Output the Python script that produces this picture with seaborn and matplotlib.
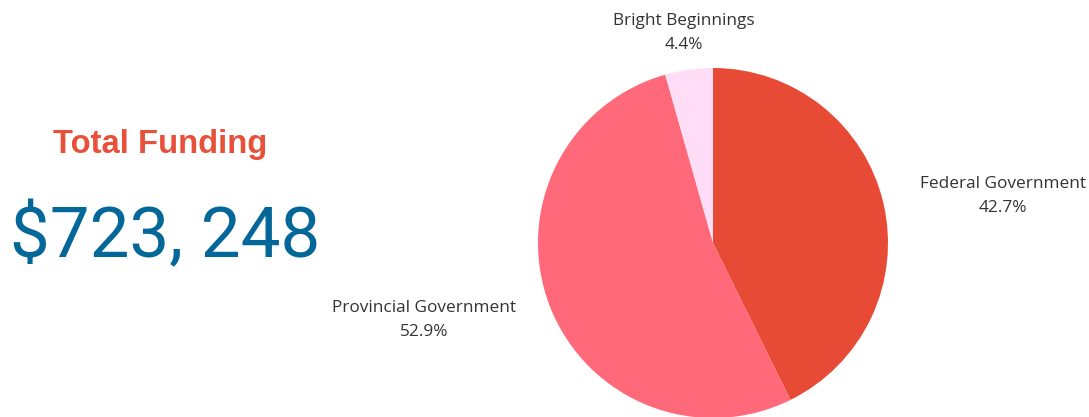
import matplotlib
matplotlib.use("Agg")
import matplotlib.pyplot as plt
import numpy as np
import seaborn as sns

# Funding sources (share of total, %)
sources = ["Federal Government", "Provincial Government", "Bright Beginnings"]
shares = [42.7, 52.9, 4.4]
colors = ["#E84B35", "#FF6979", "#FFDDF6"]

# label placement: radial distance and angle shift from wedge middle
label_dist = [1.68, 1.71, 1.21]
label_shift = [-3.9, -6.2, 0.0]

total_title = "Total Funding"
total_value = "$723, 248"

sns.set_theme(style="white")
plt.rcParams["font.family"] = ["Open Sans", "DejaVu Sans"]

fig = plt.figure(figsize=(10.89, 4.17), dpi=100)
W, H = 1089, 417
cx, cy, r = 713, 243, 175
ax = fig.add_axes([(cx - r) / W, (H - cy - r) / H, 2 * r / W, 2 * r / H])

wedges, _ = ax.pie(shares, colors=colors, startangle=90, counterclock=False,
                   radius=1, wedgeprops=dict(linewidth=0))
ax.set_xlim(-1, 1)
ax.set_ylim(-1, 1)
ax.set_aspect("equal")
ax.axis("off")

for w, name, pct, d, sh in zip(wedges, sources, shares, label_dist, label_shift):
    ang = np.deg2rad((w.theta1 + w.theta2) / 2 + sh)
    ax.text(d * np.cos(ang), d * np.sin(ang), f"{name}\n{pct}%",
            ha="center", va="center", fontsize=12.4, color="#333333",
            linespacing=1.65, clip_on=False)

fig.text(160 / W, 1 - 145 / H, total_title, ha="center", va="center",
         fontsize=23.6, fontweight="bold", color="#E8503A",
         family=["Liberation Sans", "DejaVu Sans"])
fig.text(165 / W, 1 - 237 / H, total_value, ha="center", va="center",
         fontsize=51, color="#04679A", family=["Roboto", "DejaVu Sans"])

fig.savefig("out.png", dpi=100)
